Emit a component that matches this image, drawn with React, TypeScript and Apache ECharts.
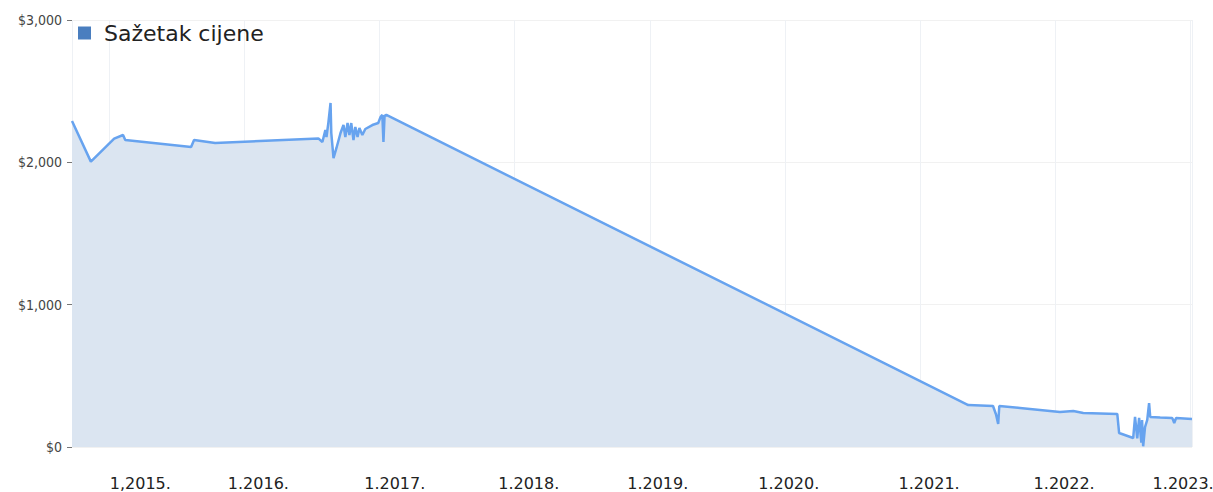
import React, { useEffect, useRef } from "react";
import * as echarts from "echarts";

const seriesName = "Sažetak cijene";

const dates: string[] = [
  "2014-09-22", "2014-11-12", "2015-01-14", "2015-02-07", "2015-02-13",
  "2015-08-10", "2015-08-18", "2015-10-14", "2016-07-19", "2016-07-30",
  "2016-08-07", "2016-08-10", "2016-08-15", "2016-08-21", "2016-08-23",
  "2016-08-29", "2016-09-06", "2016-09-17", "2016-09-25", "2016-09-30",
  "2016-10-06", "2016-10-11", "2016-10-16", "2016-10-22", "2016-10-27",
  "2016-11-02", "2016-11-07", "2016-11-15", "2016-11-23", "2016-12-12",
  "2016-12-28", "2017-01-03", "2017-01-08", "2017-01-11", "2017-01-14",
  "2017-01-19", "2021-05-11", "2021-07-17", "2021-07-25", "2021-07-31",
  "2021-08-03", "2021-09-28", "2022-01-14", "2022-02-19", "2022-03-18",
  "2022-06-18", "2022-06-23", "2022-07-31", "2022-08-05", "2022-08-11",
  "2022-08-16", "2022-08-22", "2022-08-24", "2022-08-27", "2022-09-01",
  "2022-09-07", "2022-09-12", "2022-09-15", "2022-10-12", "2022-11-13",
  "2022-11-16", "2022-11-19", "2022-11-24", "2023-01-06",
];

const prices: number[] = [
  2290, 2005, 2166, 2192, 2157,
  2108, 2157, 2136, 2168, 2143,
  2227, 2178, 2276, 2417, 2206,
  2030, 2101, 2206, 2262, 2178,
  2276, 2192, 2276, 2157, 2248,
  2178, 2241, 2192, 2234, 2262,
  2276, 2318, 2333, 2143, 2326,
  2333, 295, 288, 230, 162,
  288, 274, 246, 253, 239,
  232, 98, 63, 211, 60,
  204, 30, 190, 5, 140,
  190, 309, 211, 207, 204,
  190, 169, 204, 197,
];

const yTicks: number[] = [0, 1000, 2000, 3000];
const xMin = "2014-09-22";
const xMax = "2023-01-06";

// horizontal label shift per year, in px
const labelShift: Record<number, number> = {
  2015: 31, 2016: 14, 2017: 15, 2018: 14, 2019: 8,
  2020: 4, 2021: 9, 2022: 9, 2023: -7,
};

function fmtMoney(v: number): string {
  return "$" + String(v).replace(/\B(?=(\d{3})+(?!\d))/g, ",");
}

export default function App() {
  const ref = useRef<HTMLDivElement>(null);
  useEffect(() => {
    if (!ref.current) return;
    const chart = echarts.init(ref.current, null, { renderer: "svg" });
    const data = dates.map((d, i) => [d, prices[i]]);
    const rich: Record<string, any> = {};
    Object.keys(labelShift).forEach((k) => {
      const dx = labelShift[Number(k)];
      rich["y" + k] = {
        fontFamily: "DejaVu Sans",
        fontSize: 16,
        color: "#222222",
        padding: [0, dx < 0 ? -dx * 2 : 0, 0, dx > 0 ? dx * 2 : 0],
      };
    });
    chart.setOption({
      animation: false,
      backgroundColor: "#ffffff",
      grid: {
        left: 72,
        right: 21,
        top: 20,
        bottom: 45,
        containLabel: false,
        outerBoundsMode: "none",
      },
      legend: {
        left: 73,
        top: 17,
        icon: "rect",
        itemWidth: 13,
        itemHeight: 13,
        data: [{ name: seriesName, itemStyle: { color: "#4a7ebf" } }],
        textStyle: {
          fontFamily: "DejaVu Sans",
          fontSize: 22,
          color: "#222222",
          padding: [0, 0, 0, 8],
        },
      },
      xAxis: {
        type: "time",
        min: xMin,
        max: xMax,
        splitNumber: 9,
        minInterval: 365 * 24 * 3600 * 1000,
        axisLine: { show: false },
        axisTick: { show: false },
        splitLine: { show: true, lineStyle: { color: "#eef1f5", width: 1 } },
        axisLabel: {
          showMinLabel: false,
          showMaxLabel: false,
          margin: 28,
          fontFamily: "DejaVu Sans",
          fontSize: 16,
          color: "#222222",
          rich,
          formatter: (v: number) => {
            const y = new Date(v).getFullYear();
            const txt = y === 2015 ? "1,2015." : "1." + y + ".";
            return labelShift[y] !== undefined ? "{y" + y + "|" + txt + "}" : txt;
          },
        },
      },
      yAxis: {
        type: "value",
        min: yTicks[0],
        max: yTicks[yTicks.length - 1],
        interval: 1000,
        axisLine: { show: false },
        axisTick: { show: true, length: 5, lineStyle: { color: "#777777" } },
        splitLine: { show: true, lineStyle: { color: "#f1f1f1", width: 1 } },
        axisLabel: {
          margin: 10,
          fontFamily: "DejaVu Sans Condensed",
          fontSize: 14,
          color: "#444444",
          formatter: (v: number) => fmtMoney(v),
        },
      },
      series: [
        {
          name: seriesName,
          type: "line",
          data,
          showSymbol: false,
          symbol: "none",
          lineStyle: { color: "#67a3ef", width: 2.5 },
          itemStyle: { color: "#67a3ef" },
          areaStyle: { color: "#dbe5f1", opacity: 1 },
        },
      ],
    });
    return () => chart.dispose();
  }, []);
  return (
    <div
      ref={ref}
      style={{ position: "fixed", left: 0, top: 0, width: 1213, height: 492 }}
    />
  );
}
